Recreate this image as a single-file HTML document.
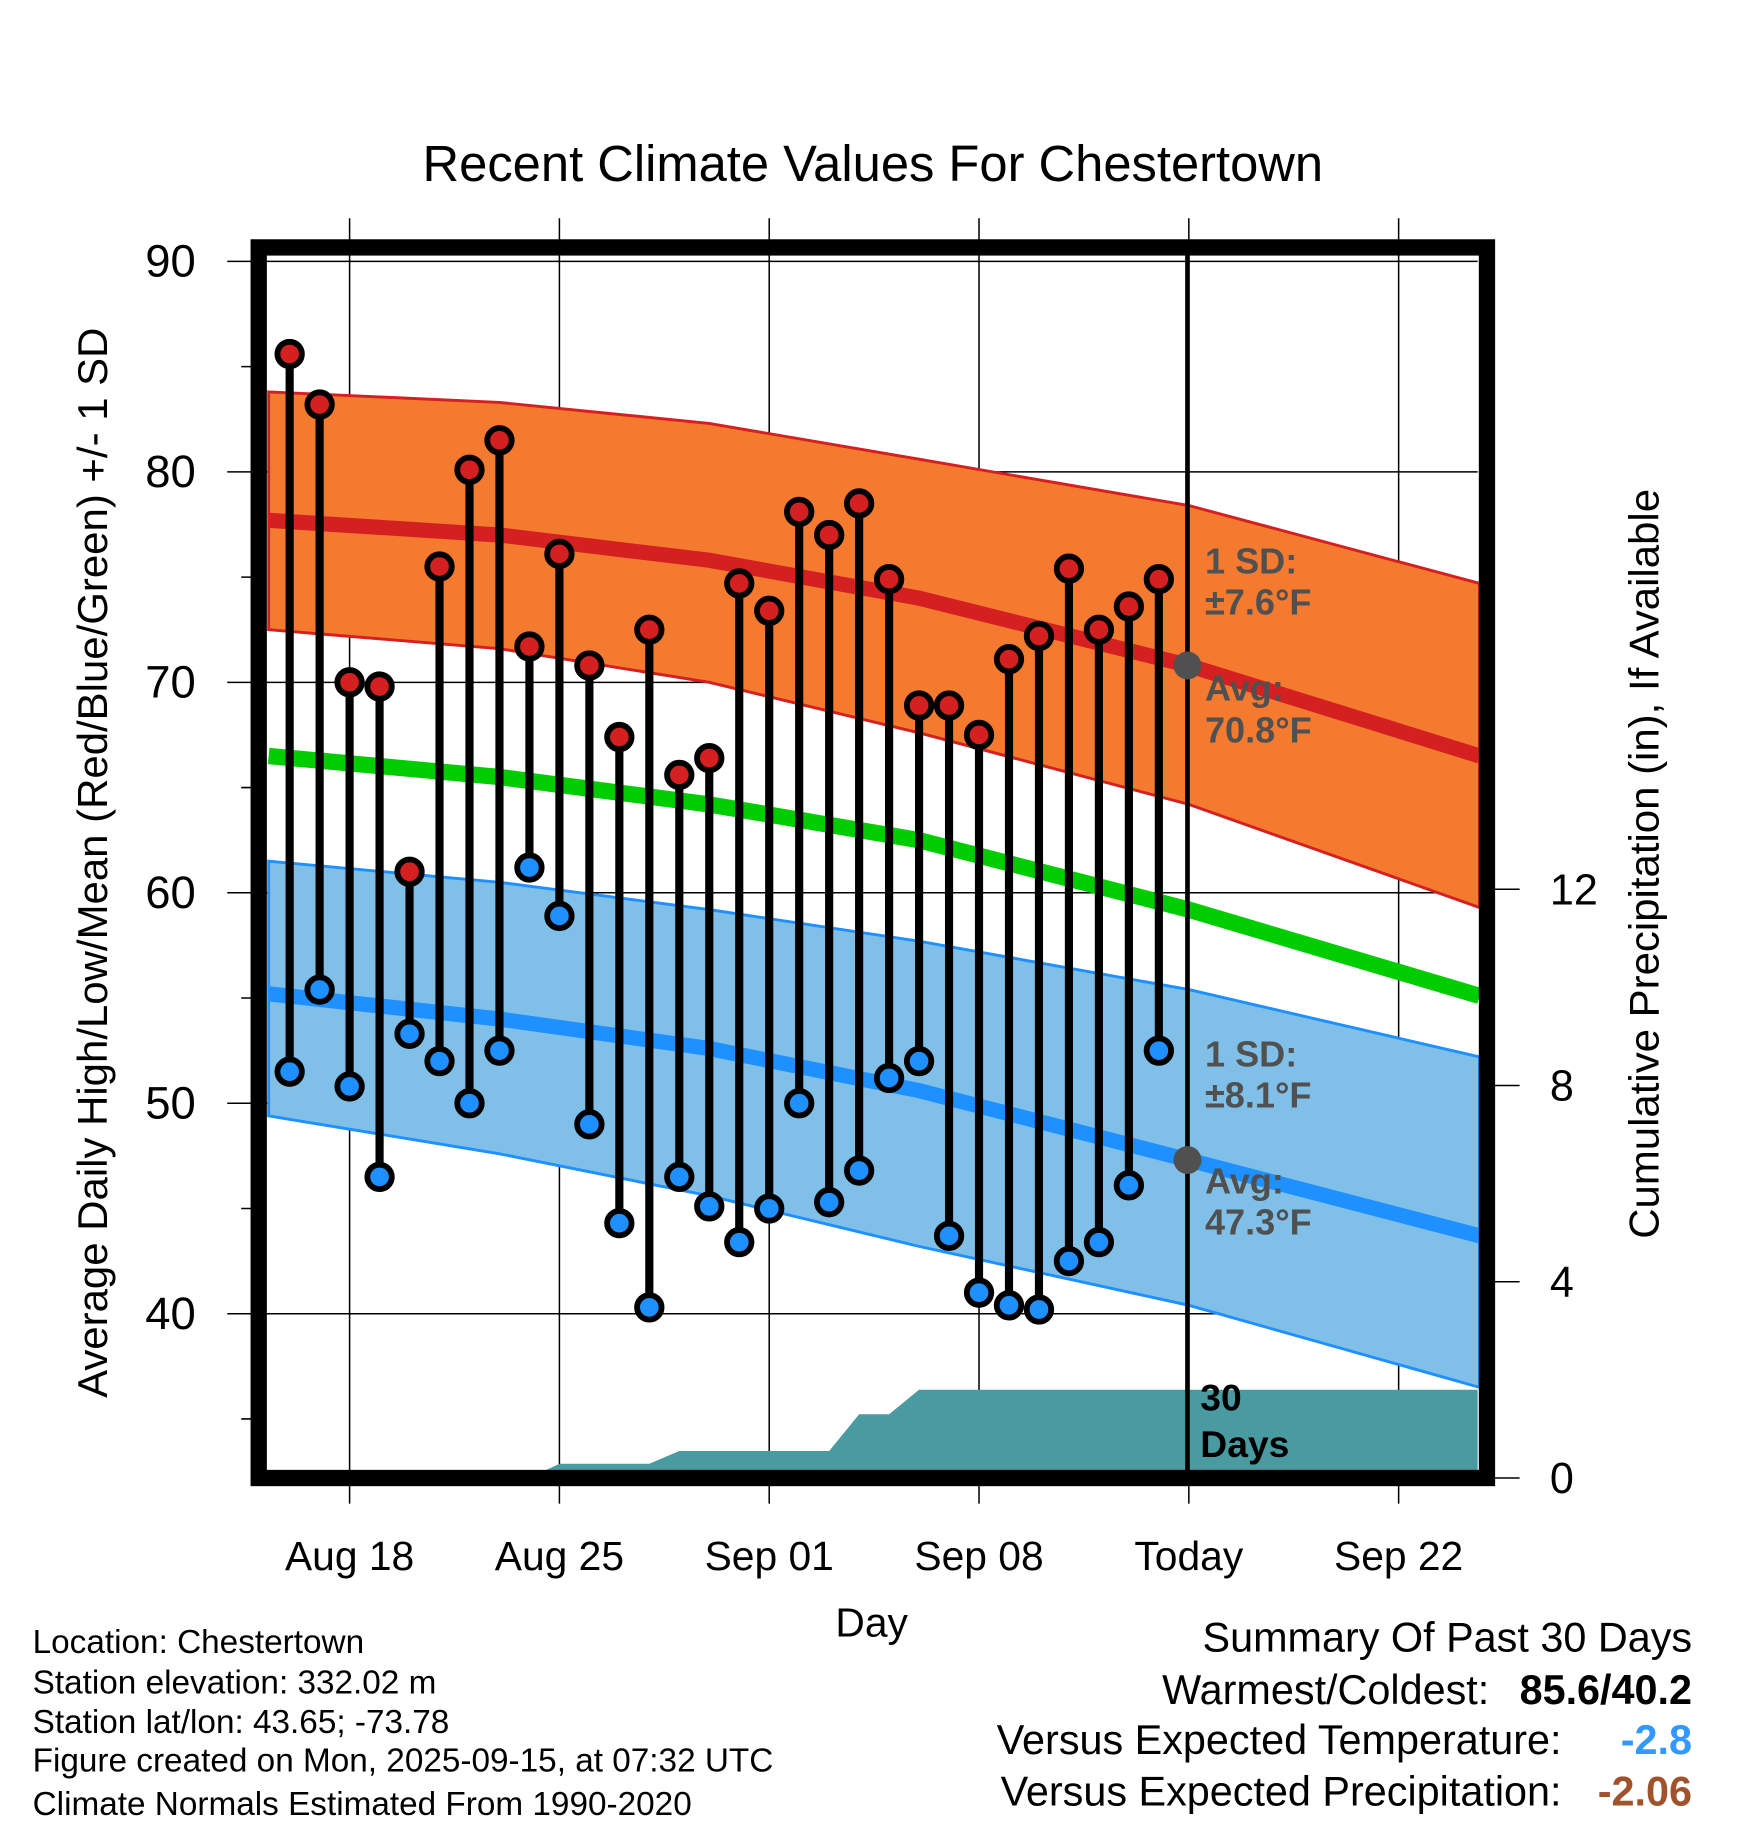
<!DOCTYPE html>
<html><head><meta charset="utf-8"><style>
html,body{margin:0;padding:0;background:#fff;}
svg{display:block;font-family:"Liberation Sans",sans-serif;}
</style></head><body>
<svg id="chart" width="1748" height="1828" viewBox="0 0 1500 1568" xmlns="http://www.w3.org/2000/svg">
<g id="layer"></g>
</svg>
<script>
const days = ["Aug16","Aug17","Aug18","Aug19","Aug20","Aug21","Aug22","Aug23","Aug24","Aug25","Aug26","Aug27","Aug28","Aug29","Aug30","Aug31","Sep01","Sep02","Sep03","Sep04","Sep05","Sep06","Sep07","Sep08","Sep09","Sep10","Sep11","Sep12","Sep13","Sep14"];
const highs = [85.6,83.2,70.0,69.8,61.0,75.5,80.1,81.5,71.7,76.1,70.8,67.4,72.5,65.6,66.4,74.7,73.4,78.1,77.0,78.5,74.9,68.9,68.9,67.5,71.1,72.2,75.4,72.5,73.6,74.9];
const lows = [51.5,55.4,50.8,46.5,53.3,52.0,50.0,52.5,61.2,58.9,49.0,44.3,40.3,46.5,45.1,43.4,45.0,50.0,45.3,46.8,51.2,52.0,43.7,41.0,40.4,40.2,42.5,43.4,46.1,52.5];
const precipCum = [0,0,0,0,0,0,0,0,0,0.29,0.29,0.29,0.29,0.55,0.55,0.55,0.55,0.55,0.55,1.3,1.3,1.8,1.8,1.8,1.8,1.8,1.8,1.8,1.8,1.8];
const normDays = [-2.7,5,12,19,28,37.7];
const avgHigh = [77.7,77.0,75.8,74.0,70.8,66.5];
const highUpper = [83.8,83.3,82.3,80.6,78.4,74.7];
const highLower = [72.5,71.6,70.0,67.6,64.2,59.3];
const meanTemp = [66.5,65.5,64.2,62.5,59.2,55.1];
const avgLow = [55.2,54.0,52.6,50.6,47.3,43.7];
const lowUpper = [61.5,60.5,59.2,57.7,55.4,52.2];
const lowLower = [49.4,47.6,45.6,43.2,40.4,36.5];
const yTicks = [40,50,60,70,80,90];
const precipTicks = [0,4,8,12];
const xTickLabels = ["Aug 18","Aug 25","Sep 01","Sep 08","Today","Sep 22"];
const xTickDays = [0,7,14,21,28,35];

const NS="http://www.w3.org/2000/svg";
const L=230,R=1268,T=212,B=1262;
const xs=d=>300+d*25.72;
const ys=v=>224+(90-v)*18.06;
const yp=p=>1268-p*42.1;
const g=document.getElementById('layer');
function el(tag,attrs,name,text){const e=document.createElementNS(NS,tag);for(const k in attrs)e.setAttribute(k,attrs[k]);


if(text!==undefined)e.textContent=text;g.appendChild(e);return e;}
function line(arr){return normDays.map((d,i)=>xs(d)+','+ys(arr[i])).join(' ');}
function band(up,lo){const a=normDays.map((d,i)=>xs(d)+','+ys(up[i]));const b=normDays.map((d,i)=>xs(d)+','+ys(lo[i])).reverse();return a.concat(b).join(' ');}
yTicks.forEach(v=>el('line',{x1:195,x2:R,y1:ys(v),y2:ys(v),stroke:'#000','stroke-width':1.3},'grid-line-'+v));
[35,45,55,65,75,85].forEach(v=>el('line',{x1:207,x2:222,y1:ys(v),y2:ys(v),stroke:'#000','stroke-width':1.3},'minor-tick-'+v));
xTickDays.forEach((d,i)=>{el('line',{x1:xs(d),x2:xs(d),y1:187,y2:1290,stroke:'#000','stroke-width':1.3},'x-grid-'+i);});
el('polygon',{points:band(highUpper,highLower),fill:'#F47A30',stroke:'#D42020','stroke-width':2.5},'high-sd-band');
el('polygon',{points:band(lowUpper,lowLower),fill:'#80C0E8',stroke:'#1E90FF','stroke-width':2.5},'low-sd-band');
el('polyline',{points:line(avgHigh),fill:'none',stroke:'#D42020','stroke-width':13},'avg-high-line');
el('polyline',{points:line(meanTemp),fill:'none',stroke:'#00CC00','stroke-width':14},'mean-line');
el('polyline',{points:line(avgLow),fill:'none',stroke:'#1E90FF','stroke-width':13},'avg-low-line');
let pts=[L+','+B, L+','+yp(precipCum[0])];
precipCum.forEach((p,i)=>pts.push(xs(i-2)+','+yp(p)));
pts.push(R+','+yp(precipCum[precipCum.length-1]), R+','+B);
el('polygon',{points:pts.join(' '),fill:'#4A9AA2'},'precip-area');
el('line',{x1:1019,x2:1019,y1:T,y2:1268,stroke:'#000','stroke-width':4},'today-line');
days.forEach((d,i)=>{const x=xs(i-2);
 el('line',{x1:x,x2:x,y1:ys(highs[i]),y2:ys(lows[i]),stroke:'#000','stroke-width':7},'range-bar-'+d);});
days.forEach((d,i)=>{const x=xs(i-2);
 el('circle',{cx:x,cy:ys(highs[i]),r:10.5,fill:'#D42020',stroke:'#000','stroke-width':5},'high-point-'+d);
 el('circle',{cx:x,cy:ys(lows[i]),r:10.5,fill:'#1E90FF',stroke:'#000','stroke-width':5},'low-point-'+d);});
el('circle',{cx:1019,cy:ys(avgHigh[4]),r:12,fill:'#505050'},'today-avg-high-dot');
el('circle',{cx:1019,cy:ys(avgLow[4]),r:12,fill:'#505050'},'today-avg-low-dot');
el('rect',{x:222,y:212,width:1054,height:1056,fill:'none',stroke:'#000','stroke-width':14},'plot-frame');
yTicks.forEach(v=>el('text',{x:168,y:ys(v)+13,'font-size':39,'text-anchor':'end'},'y-tick-'+v,v));
precipTicks.forEach(p=>{el('line',{x1:1276,x2:1304,y1:yp(p),y2:yp(p),stroke:'#000','stroke-width':1.3},'precip-tick-'+p);
 el('text',{x:1330,y:yp(p)+13,'font-size':37},'precip-label-'+p,p);});
xTickLabels.forEach((t,i)=>el('text',{x:xs(xTickDays[i]),y:1347,'font-size':35,'text-anchor':'middle'},'x-tick-'+i,t));
el('text',{x:748,y:1404,'font-size':35,'text-anchor':'middle'},'x-axis-title','Day');
el('text',{x:749,y:155,'font-size':43.5,'text-anchor':'middle'},'chart-title','Recent Climate Values For Chestertown');
el('text',{x:0,y:0,'font-size':36,'text-anchor':'middle',transform:'translate(92,740) rotate(-90)'},'y-axis-title','Average Daily High/Low/Mean (Red/Blue/Green) +/- 1 SD');
el('text',{x:0,y:0,'font-size':36,'text-anchor':'middle',transform:'translate(1423,741) rotate(-90)'},'y2-axis-title','Cumulative Precipitation (in), If Available');
const ann=[["1 SD:",492],["±7.6°F",527],["Avg:",601],["70.8°F",637],["1 SD:",915],["±8.1°F",950],["Avg:",1024],["47.3°F",1059]];
ann.forEach((a,i)=>el('text',{x:1034,y:a[1],'font-size':31,'font-weight':'bold',fill:'#505050'},'annotation-'+i,a[0]));
el('text',{x:1030,y:1210,'font-size':32,'font-weight':'bold'},'precip-label-30',"30");
el('text',{x:1030,y:1250,'font-size':32,'font-weight':'bold'},'precip-label-days',"Days");
const info=[["Location: Chestertown",1418],["Station elevation: 332.02 m",1453],["Station lat/lon: 43.65; -73.78",1487],["Figure created on Mon, 2025-09-15, at 07:32 UTC",1520],["Climate Normals Estimated From 1990-2020",1557]];
info.forEach((a,i)=>el('text',{x:28,y:a[1],'font-size':28.6},'info-line-'+i,a[0]));
el('text',{x:1452,y:1417,'font-size':35.5,'text-anchor':'end'},'summary-title','Summary Of Past 30 Days');
el('text',{x:1278,y:1462,'font-size':35.5,'text-anchor':'end'},'warmest-label','Warmest/Coldest:');
el('text',{x:1452,y:1462,'font-size':35.5,'text-anchor':'end','font-weight':'bold'},'warmest-value','85.6/40.2');
el('text',{x:1340,y:1505,'font-size':35.5,'text-anchor':'end'},'temp-vs-label','Versus Expected Temperature:');
el('text',{x:1452,y:1505,'font-size':35.5,'text-anchor':'end','font-weight':'bold',fill:'#3399FF'},'temp-vs-value','-2.8');
el('text',{x:1340,y:1549,'font-size':35.5,'text-anchor':'end'},'precip-vs-label','Versus Expected Precipitation:');
el('text',{x:1452,y:1549,'font-size':35.5,'text-anchor':'end','font-weight':'bold',fill:'#A0522D'},'precip-vs-value','-2.06');
</script>
</body></html>
